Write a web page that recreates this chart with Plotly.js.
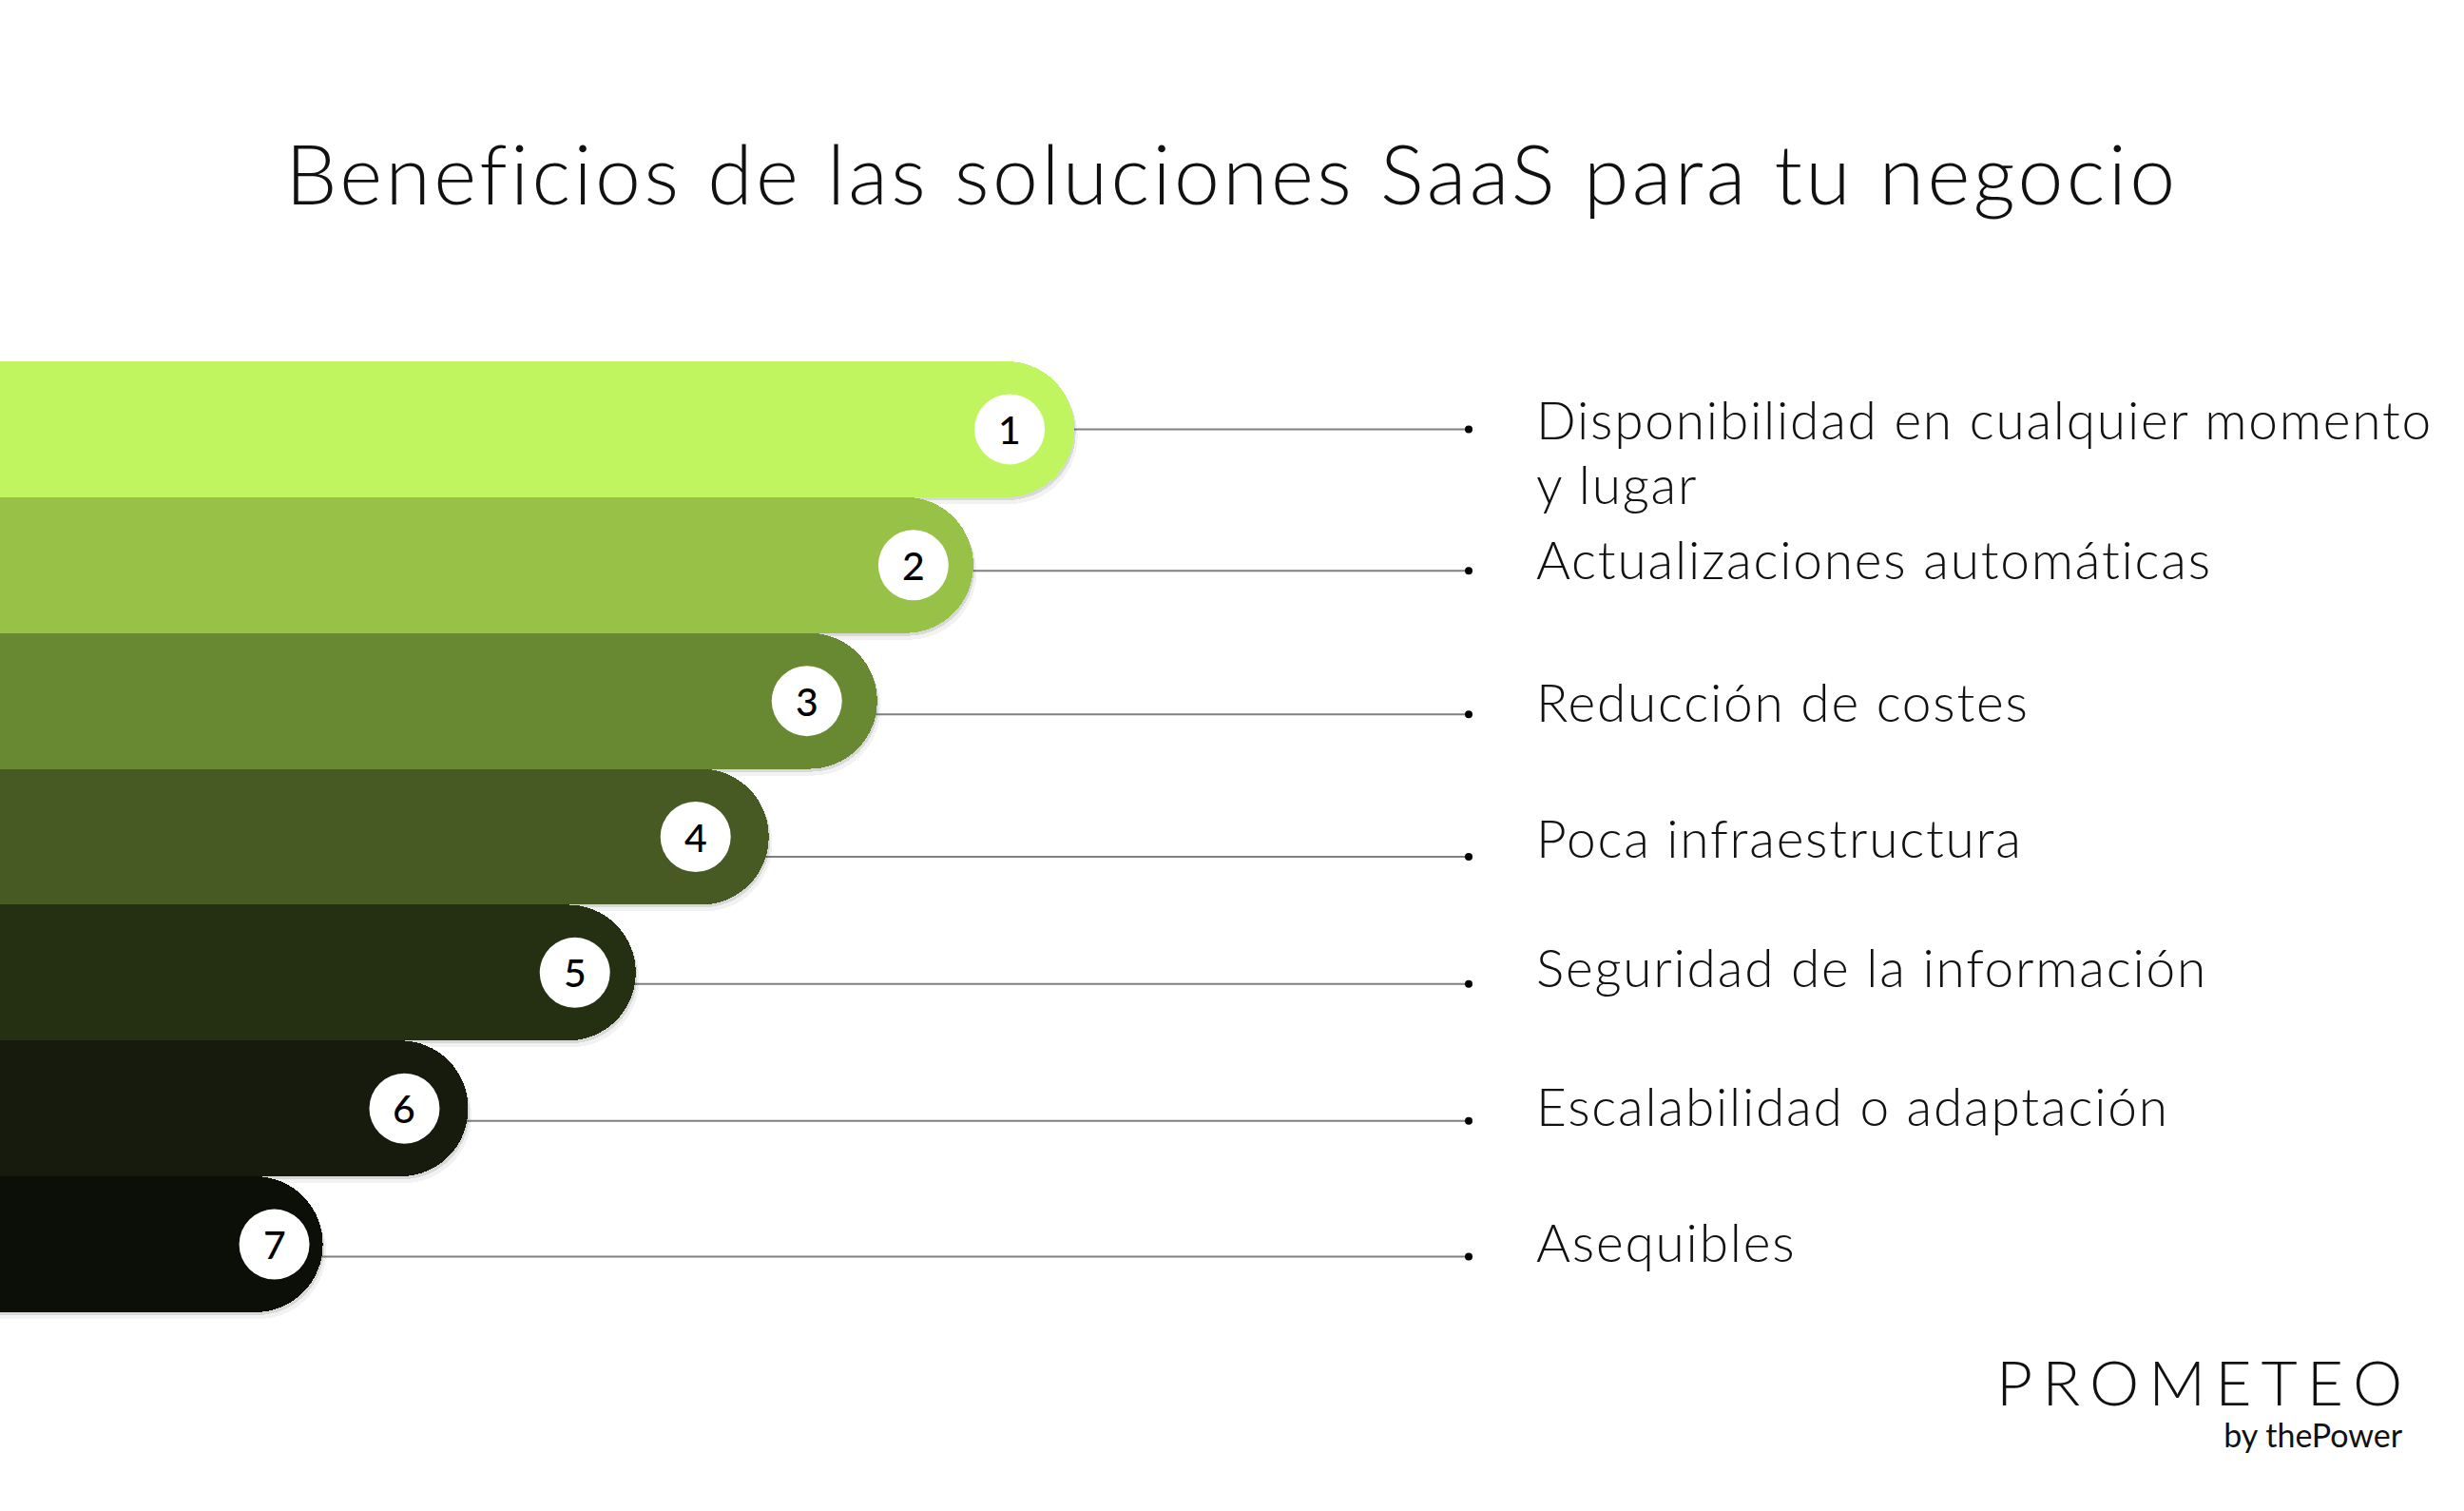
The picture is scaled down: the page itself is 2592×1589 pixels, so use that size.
<!DOCTYPE html>
<html>
<head>
<meta charset="utf-8">
<script src="https://cdn.plot.ly/plotly-3.0.1.min.js"></script>
<style>html,body{margin:0;padding:0;background:#fff;}#chart{width:2592px;height:1589px;}</style>
</head>
<body>
<div id="chart"></div>
<script>
// ---- data ----
const chartTitle = "Beneficios de las soluciones SaaS para tu negocio";
const benefits = [
  "Disponibilidad en cualquier momento<br>y lugar",
  "Actualizaciones automáticas",
  "Reducción de costes",
  "Poca infraestructura",
  "Seguridad de la información",
  "Escalabilidad o adaptación",
  "Asequibles"
];
const ranks = ["1", "2", "3", "4", "5", "6", "7"];
const barLength = [43.6, 39.5, 35.6, 31.2, 25.8, 19.0, 13.1];
const barColors = ["#C0F560", "#98C148", "#688932", "#475A24", "#253012", "#171B0D", "#0C0F08"];
const logoText = "PROMETEO";
const logoSub = "by thePower";

// ---- style / layout constants ----
const W = 2592, H = 1589;
const X_MAX = 100;                 // x axis range 0..100
const PX_X = W / X_MAX;            // px per x unit
const ROW_PX = 1000 / 7;           // px per row
const FIRST_CENTER = 380 + ROW_PX / 2;
const yTop = -FIRST_CENTER / ROW_PX;
const yBottom = (H - FIRST_CENTER) / ROW_PX;
const badgeInsetPx = [68, 63, 74, 77, 64, 67, 51];
const badgeR = 37;
const connectorDropPx = [0, 6, 14, 21, 12, 13, 13];
const labelDropPx = [24, -6, 1, 1, -6, -3, -3];
const dotX = 1545 / PX_X;
const labelX = 1614 / W;
const FONT = "Lato, 'Open Sans', sans-serif";
const LABEL_SPAN = '<span style="font-size:55px;letter-spacing:1.8px">';

const rows = benefits.map((_, i) => i);

const traces = [];
// soft shadows (two layers)
[[3, 0.10], [7, 0.05]].forEach(([d, a]) => {
  traces.push({
    type: 'bar', orientation: 'h',
    x: barLength.map(v => v + (d * 0.5) / PX_X),
    y: rows, width: 1, offset: -0.5 + d / ROW_PX,
    marker: {color: `rgba(0,0,0,${a})`, cornerradius: '50%', line: {width: 0}},
    hoverinfo: 'skip', showlegend: false
  });
});
// main bars
traces.push({
  type: 'bar', orientation: 'h',
  x: barLength, y: rows, width: 1,
  text: benefits, textposition: 'none',
  marker: {color: barColors, cornerradius: '50%', line: {width: 0}},
  hoverinfo: 'skip', showlegend: false
});
// connector end dots
traces.push({
  type: 'scatter', mode: 'markers',
  x: rows.map(() => dotX),
  y: rows.map(i => i + connectorDropPx[i] / ROW_PX),
  marker: {color: '#000', size: 8},
  hoverinfo: 'skip', showlegend: false
});

const shapes = [];
rows.forEach(i => {
  shapes.push({
    type: 'line', xref: 'x', yref: 'y', layer: 'below',
    x0: barLength[i] - 2, x1: dotX,
    y0: i + connectorDropPx[i] / ROW_PX, y1: i + connectorDropPx[i] / ROW_PX,
    line: {color: '#808080', width: 2}
  });
  shapes.push({
    type: 'circle', xref: 'x', yref: 'y', layer: 'above',
    xsizemode: 'pixel', ysizemode: 'pixel',
    xanchor: barLength[i], yanchor: i,
    x0: -badgeInsetPx[i] - badgeR, x1: -badgeInsetPx[i] + badgeR,
    y0: -badgeR, y1: badgeR,
    fillcolor: '#ffffff', line: {width: 0}
  });
});

const annotations = [];
rows.forEach(i => {
  annotations.push({
    xref: 'x', yref: 'y', x: barLength[i], y: i, xshift: -badgeInsetPx[i],
    text: ranks[i], showarrow: false, xanchor: 'center', yanchor: 'middle',
    font: {family: FONT, size: 41, color: '#000', weight: 500}
  });
  annotations.push({
    xref: 'paper', yref: 'y', x: labelX,
    y: i + labelDropPx[i] / ROW_PX,
    text: LABEL_SPAN + benefits[i].split('<br>').join('</span><br>' + LABEL_SPAN) + '</span>',
    showarrow: false, xanchor: 'left', yanchor: 'middle', align: 'left',
    font: {family: FONT, size: 52, color: '#111', weight: 300}
  });
});
// logo (one text block: wordmark + tagline)
annotations.push({
  xref: 'paper', yref: 'paper', x: 2530 / W, y: 1 - 1471 / H,
  text: '<span style="font-size:66px;font-weight:300;letter-spacing:10px">' + logoText.slice(0, -1) +
        '</span><span style="font-size:66px;font-weight:300">' + logoText.slice(-1) + '</span><br>' + logoSub,
  showarrow: false, xanchor: 'right', yanchor: 'middle', align: 'right',
  font: {family: FONT, size: 34, color: '#111', weight: 400}
});

const layout = {
  width: W, height: H,
  margin: {l: 0, r: 0, t: 0, b: 0, pad: 0},
  paper_bgcolor: '#ffffff', plot_bgcolor: '#ffffff',
  barmode: 'overlay', bargap: 0,
  showlegend: false,
  title: {
    text: '<span style="letter-spacing:3.4px">' + chartTitle + '</span>',
    x: 0.5, xanchor: 'center', xref: 'paper',
    yref: 'container', y: 1 - 185 / H, yanchor: 'middle',
    font: {family: FONT, size: 86, color: '#111', weight: 300}
  },
  xaxis: {range: [0, X_MAX], visible: false, fixedrange: true},
  yaxis: {range: [yBottom, yTop], visible: false, fixedrange: true},
  shapes: shapes,
  annotations: annotations
};

Plotly.newPlot('chart', traces, layout, {displayModeBar: false, staticPlot: true});
</script>
</body>
</html>
